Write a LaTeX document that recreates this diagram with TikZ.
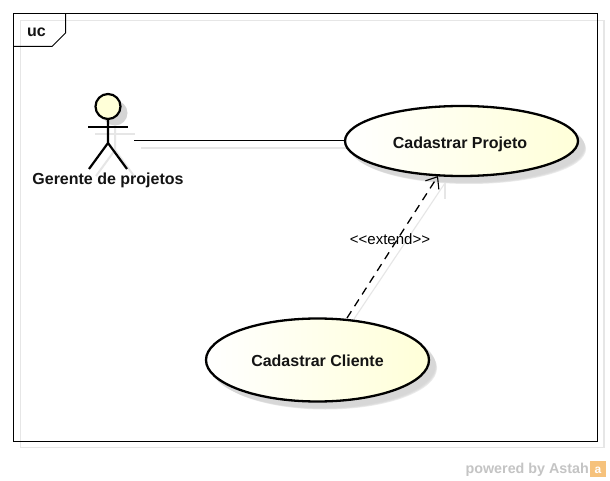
\documentclass[tikz,border=0pt]{standalone}
\usepackage{fontspec}
\setmainfont{Liberation Sans}
\usetikzlibrary{shapes.geometric,arrows.meta}
\definecolor{ucfill}{HTML}{FFFFD8}
\definecolor{frameshadow}{HTML}{E6E6E6}
\definecolor{softshadow}{HTML}{D4D4D4}
\definecolor{brandgray}{HTML}{C4C4C4}
\definecolor{logoorange}{HTML}{F6C27C}
\tikzset{
  frameline/.style={draw=black,line width=1pt},
  shadowline/.style={draw=frameshadow,line width=1.1pt},
  usecase/.style={ellipse,draw=black,line width=2.3pt,inner sep=0pt,left color=white,right color=ucfill,
    font=\fontsize{16}{18}\selectfont\bfseries\color{black!92}},
  actorline/.style={draw=black,line width=2.2pt},
  actorshadow/.style={draw=frameshadow,line width=2pt},
  linkline/.style={draw=black,line width=1pt},
  softblur/.style={fill=softshadow,opacity=.45},
  label/.style={inner sep=0pt,text=black}
}
\begin{document}
\begin{tikzpicture}[x=1pt,y=-1pt]
\useasboundingbox (0,0) rectangle (610,481);
\fill[white] (0,0) rectangle (610,481);
% frame
\draw[shadowline] (20.5,20.5) rectangle (604,447.5);
\draw[frameline] (13.5,13.5) rectangle (597,441);
\draw[frameline] (13.5,46.5) -- (52,46.5) -- (65.5,33) -- (65.5,13.5);
\node[label,font=\fontsize{16}{18}\selectfont\bfseries,text=black!92] (uc) at (36.5,32) {uc};
% shadows of use cases
\foreach \d/\e in {5/1.5,6/1,7/.5,8/0}{
  \fill[softblur] (461.5+\d,141+\d) ellipse [x radius=116.5+\e,y radius=35+\e];
  \fill[softblur] (317.5+\d,360+\d) ellipse [x radius=111.5+\e,y radius=41.5+\e];
}
% shadows of connectors
\draw[shadowline] (141,148) -- (352,148);
\draw[shadowline] (352,322) -- (445,183);
\draw[shadowline] (445,183) -- (445,199);
% actor shadow
\fill[softshadow] (115,113) circle [radius=12.5];
\draw[actorshadow] (95,134) -- (135,134);
\draw[actorshadow] (115,125) -- (115,150) -- (96,176);
\draw[actorshadow] (115,150) -- (134,176);
% use cases
\node[usecase,minimum width=233pt,minimum height=70pt] (projeto) at (461.5,141) {\hspace*{-3pt}\smash{\raisebox{-7.5pt}{Cadastrar Projeto}}};
\node[usecase,minimum width=223pt,minimum height=83pt] (cliente) at (317.5,360) {\smash{\raisebox{-6.5pt}{Cadastrar Cliente}}};
% actor
\node[circle,draw=black,line width=2.2pt,fill=ucfill,minimum size=25pt,inner sep=0pt] (head) at (108,106.5) {};
\coordinate (hip) at (108,143);
\coordinate (armL) at (88,127);
\coordinate (armR) at (128,127);
\coordinate (footL) at (89,169);
\coordinate (footR) at (127,169);
\coordinate (actorEnd) at (134,141);
\draw[actorline] (armL) -- (armR);
\draw[actorline] (head.south) -- (hip) -- (footL);
\draw[actorline] (hip) -- (footR);
\node[label,font=\fontsize{16}{18}\selectfont\bfseries,text=black!92] (gerente) at (108,180) {Gerente de projetos};
% connectors
\draw[linkline] (actorEnd) -- (projeto.west);
\draw[linkline,line width=1.3pt,dash pattern=on 8pt off 6pt,-{Straight Barb[length=10pt,width=16pt,line width=1.1pt]}]
  (347,318) -- (438,176);
\node[label,font=\fontsize{15}{17}\selectfont,fill=none] (ext) at (390,239.5) {<{}<extend>{}>};
% brand
\node[label,font=\fontsize{14.3}{17}\selectfont\bfseries,text=brandgray,anchor=east] (brand) at (589,469.5) {powered by Astah};
\fill[logoorange] (590,461) rectangle (606,477);
\node[label,font=\fontsize{12}{12}\selectfont\bfseries,text=white] (logo) at (598,470) {a};
\end{tikzpicture}
\end{document}
